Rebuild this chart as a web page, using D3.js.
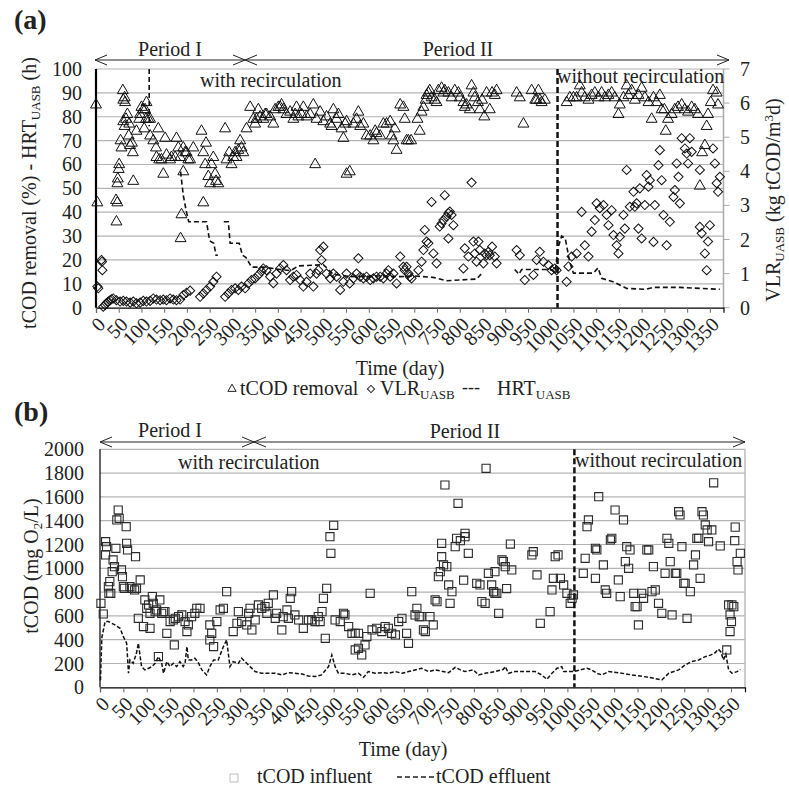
<!DOCTYPE html>
<html>
<head>
<meta charset="utf-8">
<script src="https://cdn.jsdelivr.net/npm/d3@7"></script>
<style>
  body { margin: 0; background: #fff; }
  svg { display: block; }
</style>
</head>
<body>
<div id="chart"></div>
<script>
// ---- data ----
// panel (a): tCOD removal (%), [day, value]
const removal = [
  [0,85],[3,44],[44,45],[47,44],[45,36],[47,52],[48,54],[50,58],[51,60],[54,70],[56,67],[59,91],[60,87],[63,88],[64,86],
  [60,78],[63,76],[66,79],[69,81],[73,77],[72,72],[75,68],[81,65],[79,69],[82,53],[89,74],[95,79],[97,81],[100,84],
  [104,83],[108,83],[111,86],[106,75],[110,79],[115,79],[119,79],[119,72],[126,70],[132,67],[137,75],[133,63],[139,62],
  [144,62],[148,56],[152,71],[155,64],[163,62],[166,63],[174,63],[177,71],[181,67],[185,63],[192,67],[196,65],[199,65],
  [203,62],[207,62],[214,67],[186,29],[188,39],[192,57],[232,74],[236,44],[236,65],[240,60],[242,69],[247,55],[251,52],
  [254,60],[258,63],[262,56],[264,53],[269,52],[284,75],[287,62],[293,65],[298,60],[302,63],[306,65],[309,63],[313,66],
  [317,70],[320,67],[324,65],[331,75],[339,84],[346,79],[350,77],[353,79],[357,83],[361,80],[368,79],[372,81],[375,81],
  [383,80],[390,77],[394,83],[401,84],[405,84],[408,85],[412,83],[419,81],[427,82],[434,79],[438,81],[441,84],[445,80],
  [452,81],[456,84],[463,80],[471,81],[478,85],[482,60],[485,79],[493,82],[500,78],[507,80],[515,77],[518,76],[522,83],
  [529,79],[533,81],[540,75],[544,71],[548,77],[551,78],[551,56],[558,57],[566,77],[573,79],[577,82],[581,76],[588,77],
  [595,72],[603,72],[610,70],[614,74],[617,73],[625,72],[632,77],[639,77],[647,78],[650,72],[654,70],[657,75],[661,66],
  [669,85],[676,84],[679,79],[683,70],[687,70],[693,70],[707,79],[712,74],[716,82],[720,84],[725,87],[727,89],[731,90],
  [734,91],[738,88],[745,87],[749,86],[753,91],[760,92],[764,90],[767,91],[775,90],[782,88],[789,91],[797,90],[800,88],
  [808,86],[811,84],[815,85],[822,83],[826,93],[830,90],[833,88],[840,86],[844,83],[849,87],[854,80],[859,90],[866,83],
  [871,90],[877,89],[881,91],[925,90],[932,88],[940,77],[958,91],[966,87],[969,87],[973,91],[976,87],[980,86],[987,87],
  [1035,86],[1042,88],[1050,88],[1057,88],[1064,93],[1068,90],[1075,88],[1083,87],[1090,89],[1097,90],[1105,88],
  [1112,90],[1119,88],[1127,89],[1134,90],[1141,88],[1149,81],[1152,85],[1160,88],[1167,93],[1171,89],[1178,91],
  [1185,87],[1193,89],[1200,92],[1207,88],[1215,86],[1222,79],[1226,88],[1233,86],[1240,89],[1244,83],[1250,83],
  [1253,74],[1258,79],[1266,81],[1273,83],[1280,84],[1288,85],[1295,83],[1302,82],[1310,84],[1317,83],[1324,81],
  [1328,51],[1333,65],[1339,68],[1343,76],[1346,81],[1352,86],[1357,91],[1365,90],[1368,85]
];

// panel (a): VLR UASB (kg tCOD/m3d), right axis
const vlr = [
  [3,0.62],[5,0.57],[12,1.4],[13,1.35],[14,1.1],[16,0.03],[20,0.08],[23,0.13],[27,0.18],[31,0.22],[34,0.25],[38,0.27],
  [45,0.22],[53,0.18],[60,0.2],[67,0.18],[75,0.15],[82,0.18],[89,0.13],[97,0.15],[104,0.2],[111,0.18],[119,0.2],
  [126,0.27],[133,0.24],[141,0.22],[148,0.24],[155,0.22],[163,0.27],[170,0.24],[177,0.22],[185,0.24],[192,0.37],
  [199,0.44],[207,0.5],[229,0.32],[236,0.42],[243,0.52],[251,0.62],[258,0.76],[265,0.91],[284,0.32],[291,0.42],
  [298,0.52],[306,0.57],[313,0.52],[320,0.62],[328,0.57],[335,0.71],[342,0.81],[350,0.86],[357,0.96],[364,1.06],
  [368,1.15],[375,1.1],[383,0.91],[390,0.72],[397,1.0],[405,1.15],[412,1.25],[419,1.1],[427,0.81],[434,0.91],
  [441,0.96],[449,0.81],[456,0.62],[463,0.76],[471,1.0],[478,0.62],[485,1.0],[489,1.1],[493,1.69],[500,1.79],
  [496,1.4],[507,1.0],[515,0.86],[522,1.0],[529,0.91],[537,0.52],[544,0.76],[551,1.0],[558,0.71],[566,0.86],
  [573,1.0],[577,1.45],[581,0.91],[588,0.86],[595,0.91],[603,0.81],[610,0.86],[617,0.91],[625,0.91],[632,0.86],
  [639,1.0],[643,1.1],[647,0.91],[654,1.0],[661,0.71],[669,1.5],[676,1.2],[679,1.1],[683,1.2],[687,1.0],[690,0.91],
  [694,0.86],[709,1.1],[716,1.35],[720,1.69],[723,2.28],[727,1.94],[731,1.89],[738,3.1],[742,1.59],[749,1.3],
  [756,2.38],[760,2.47],[764,2.57],[767,3.3],[771,2.67],[775,2.77],[778,2.82],[782,2.72],[786,2.42],[775,2.03],
  [808,1.15],[811,1.74],[819,1.5],[826,3.67],[830,1.94],[833,1.59],[837,1.35],[841,1.94],[844,1.69],[852,1.3],
  [855,1.59],[859,1.54],[863,1.64],[866,1.54],[871,1.79],[877,1.5],[881,1.3],[925,1.69],[932,1.54],[943,0.81],
  [962,0.96],[969,1.4],[976,1.64],[984,1.35],[995,1.25],[1002,1.1],[1009,1.15],[1013,1.1],[1035,0.76],[1039,1.21],
  [1046,1.5],[1057,1.59],[1068,2.81],[1075,1.83],[1083,1.5],[1090,2.23],[1097,2.57],[1101,3.06],[1108,2.92],
  [1116,3.01],[1123,2.72],[1127,2.42],[1134,2.86],[1138,2.13],[1145,1.83],[1149,1.59],[1152,2.08],[1160,2.72],
  [1163,2.32],[1167,4.04],[1174,2.96],[1182,3.4],[1185,2.96],[1189,3.06],[1193,2.32],[1196,3.5],[1200,2.03],
  [1207,3.01],[1211,3.89],[1215,3.55],[1218,3.74],[1226,1.93],[1229,3.01],[1237,4.18],[1240,4.62],[1244,3.74],
  [1248,2.72],[1255,1.83],[1262,2.52],[1270,3.25],[1273,3.45],[1277,4.23],[1281,3.84],[1284,3.06],[1288,4.97],
  [1295,4.67],[1299,4.52],[1302,4.23],[1306,4.97],[1310,4.57],[1328,4.04],[1328,2.37],[1332,2.18],[1339,1.59],
  [1343,1.1],[1346,1.94],[1350,2.42],[1357,4.67],[1361,4.23],[1365,3.65],[1368,3.4],[1372,3.84]
];

// panel (a): HRT UASB (h), null = gap in the line
const hrt = [
  [117,100],[117,76],null,
  [186,57],[192,47],[199,40],[204,36],[243,36],[250,28],[259,27],[264,22],[268,22],null,
  [281,36],[291,36],[295,27],[315,27],[322,22],[330,21],[342,17],[368,17],[405,16],[428,15.5],[445,17.5],[500,18],
  [522,14],[560,13],[624,13.3],[668,13],[700,13.3],[741,12.7],[771,11.3],[837,12],[851,15],null,
  [921,16],[930,14],[936,16],[998,16],[1010,15],[1016,25],[1024,30],[1032,29],[1042,19],[1050,14.5],[1094,14.5],
  [1104,16.7],[1112,12.3],[1137,10.9],[1167,8.1],[1210,7.7],[1225,8.5],[1284,8.5],[1372,7.7]
];

// panel (b): tCOD influent (mg O2/L)
const influent = [
  [2,706],[7,616],[12,1224],[14,1182],[12,1112],[18,846],[21,888],[23,790],[19,790],[28,1070],[31,1014],[26,972],
  [34,1168],[36,1406],[39,1490],[41,1420],[46,986],[48,930],[50,846],[52,832],[57,1210],[59,1154],[56,1350],[64,846],
  [68,832],[74,818],[76,1098],[78,832],[86,902],[96,734],[100,664],[104,692],[107,622],[112,762],[114,706],[118,636],
  [121,650],[128,734],[132,622],[136,636],[139,636],[82,580],[93,510],[107,496],[125,258],[143,454],[150,552],
  [157,566],[161,580],[168,594],[175,608],[182,552],[186,468],[189,524],[196,594],[203,622],[207,664],[214,664],
  [159,356],[235,524],[239,454],[235,398],[243,342],[250,552],[257,650],[264,664],[271,804],[285,468],[293,538],
  [296,636],[303,552],[314,524],[318,622],[321,664],[325,482],[332,566],[339,692],[346,664],[353,678],[357,622],
  [360,706],[371,776],[375,580],[378,622],[389,482],[392,594],[400,650],[407,748],[410,804],[403,580],[417,608],
  [425,566],[435,496],[446,566],[453,566],[460,552],[467,594],[471,552],[475,636],[482,412],[478,748],[485,832],
  [492,1266],[494,1126],[500,1361],[503,566],[514,552],[521,622],[524,608],[532,510],[539,454],[546,454],[553,454],
  [560,272],[546,314],[553,328],[567,356],[571,426],[578,790],[582,482],[592,496],[603,468],[610,510],[617,496],
  [624,454],[632,440],[639,552],[646,580],[656,454],[660,370],[667,804],[674,608],[678,664],[683,594],[687,594],
  [692,482],[696,468],[706,594],[713,524],[717,734],[721,720],[724,930],[728,972],[731,1210],[731,1098],[735,1028],
  [742,1014],[746,860],[753,804],[738,1700],[749,706],[760,1182],[763,1252],[766,1546],[771,1232],[778,900],
  [781,1266],[781,1294],[788,1126],[806,874],[813,860],[817,720],[824,706],[826,1840],[831,958],[838,860],[842,804],
  [845,790],[849,790],[853,622],[845,972],[860,1070],[863,1056],[867,1014],[870,830],[878,1204],[881,986],[924,1112],
  [927,1140],[935,944],[942,538],[963,636],[967,818],[970,916],[974,1098],[980,1112],[985,916],[992,860],[999,790],
  [1006,706],[1010,748],[1013,776],[1034,958],[1038,1084],[1042,1350],[1045,1406],[1060,916],[1060,1168],
  [1063,1154],[1067,1602],[1077,1028],[1081,818],[1084,790],[1092,1238],[1095,1252],[1102,1490],[1109,902],
  [1113,762],[1120,1406],[1124,1056],[1127,1182],[1131,1000],[1134,1154],[1142,790],[1145,678],[1149,678],
  [1152,524],[1159,790],[1163,748],[1170,1154],[1174,1154],[1181,804],[1184,1014],[1188,818],[1195,706],
  [1202,622],[1209,958],[1213,1252],[1217,1210],[1220,1056],[1224,608],[1231,958],[1234,958],[1238,1476],
  [1241,1448],[1245,1182],[1249,874],[1252,874],[1256,580],[1263,804],[1270,1028],[1274,1112],[1277,1252],
  [1281,1252],[1284,916],[1288,1476],[1291,1448],[1295,1364],[1299,1322],[1302,1224],[1309,1322],[1313,1718],
  [1327,1188],[1345,692],[1348,608],[1351,552],[1352,692],[1356,678],[1348,468],[1341,314],[1359,1346],
  [1358,1232],[1363,1056],[1365,986],[1370,1126]
];

// panel (b): tCOD effluent (mg O2/L)
const effluent = [
  [1,60],[4,420],[11,552],[18,552],[32,524],[43,496],[50,426],[57,370],[61,118],[64,230],[71,202],[78,286],[82,370],
  [89,174],[96,146],[104,160],[111,174],[118,202],[125,258],[132,202],[136,118],[143,216],[150,174],[157,202],
  [164,174],[171,216],[178,174],[182,202],[186,342],[189,230],[196,230],[203,244],[211,202],[218,146],[228,104],
  [235,174],[243,230],[253,230],[264,342],[271,398],[278,174],[285,216],[296,202],[303,244],[314,202],[321,174],
  [332,132],[346,118],[360,118],[375,118],[389,104],[403,123],[417,118],[432,112],[446,95],[460,90],[474,104],
  [489,174],[496,272],[503,174],[510,118],[524,118],[539,104],[553,118],[564,84],[574,132],[589,118],[603,123],
  [617,118],[632,132],[646,118],[660,132],[674,146],[688,160],[703,132],[717,146],[746,123],[760,168],[771,146],
  [781,132],[799,146],[810,104],[824,118],[845,132],[863,151],[867,174],[874,118],[888,132],[931,132],[945,104],
  [956,67],[967,118],[978,160],[988,174],[992,132],[1013,132],[1042,160],[1052,146],[1063,118],[1074,104],
  [1088,132],[1109,123],[1138,104],[1174,84],[1202,62],[1217,118],[1238,146],[1252,188],[1266,216],[1281,230],
  [1295,258],[1306,270],[1316,290],[1323,320],[1328,300],[1334,230],[1339,280],[1345,146],[1352,118],[1363,132],
  [1370,151]
];

const dayTicks = d3.range(0, 1351, 50);
const removalTicks = d3.range(0, 101, 10);
const vlrTicks = d3.range(0, 8, 1);
const tcodTicks = d3.range(0, 2001, 200);
const switchDay = 1015;

// ---- drawing ----
const W = 789, H = 788;
const FONT = "'Liberation Serif','Times New Roman',Times,serif";

const svg = d3.select("#chart").append("svg")
  .attr("width", W).attr("height", H)
  .style("font-family", FONT);
svg.append("rect").attr("width", W).attr("height", H).attr("fill", "#fff");

function bottomAxis(g, x, y0) {
  const ax = g.append("g")
    .attr("transform", `translate(0,${y0})`)
    .call(d3.axisBottom(x).tickValues(dayTicks).tickSize(5).tickFormat(d3.format("d")));
  ax.select(".domain").attr("stroke", "#000").attr("stroke-width", 1.2);
  ax.selectAll(".tick line").attr("stroke", "#666");
  ax.selectAll(".tick text")
    .attr("x", null).attr("y", null).attr("dy", "0.35em")
    .attr("transform", "translate(5,13) rotate(-45)")
    .attr("text-anchor", "end")
    .attr("font-size", 20).attr("font-family", FONT).attr("fill", "#222");
}

function grid(g, x, y, ticks) {
  g.append("g").selectAll("line").data(ticks).join("line")
    .attr("x1", x.range()[0]).attr("x2", x.range()[1])
    .attr("y1", d => y(d)).attr("y2", d => y(d))
    .attr("stroke", "#b3b3b3").attr("stroke-width", 1.2);
}

function leftLabels(g, y, ticks, xr) {
  g.append("g").selectAll("text").data(ticks).join("text")
    .attr("x", xr).attr("y", d => y(d)).attr("dy", "0.35em")
    .attr("text-anchor", "end").attr("font-size", 20).attr("fill", "#222")
    .text(d => d);
}

function arrowHead(g, tipX, y, dir) {
  // dir = -1 points left, +1 points right
  g.append("path")
    .attr("d", `M${tipX - dir * 12},${y - 5}L${tipX},${y}L${tipX - dir * 12},${y + 5}`)
    .attr("fill", "none").attr("stroke", "#222").attr("stroke-width", 1);
}

function periods(g, xL, xM, xR, y) {
  g.append("line").attr("x1", xL).attr("x2", xR).attr("y1", y).attr("y2", y)
    .attr("stroke", "#222").attr("stroke-width", 1);
  arrowHead(g, xL, y, -1);
  arrowHead(g, xM, y, 1);
  arrowHead(g, xM, y, -1);
  arrowHead(g, xR, y, 1);
}

function txt(g, x, y, s, size, anchor, weight) {
  return g.append("text").attr("x", x).attr("y", y)
    .attr("font-size", size).attr("text-anchor", anchor || "start")
    .attr("font-weight", weight || "normal").attr("fill", "#222").text(s);
}

// ===== panel (a) =====
const ga = svg.append("g");
const xA = d3.scaleLinear().domain([0, 1380]).range([96, 723.5]);
const yA = d3.scaleLinear().domain([0, 100]).range([307.7, 69]);
const yA2 = d3.scaleLinear().domain([0, 7]).range([307.7, 69]);

grid(ga, xA, yA, removalTicks.slice(1));
// right axis (grey)
ga.append("line").attr("x1", xA.range()[1]).attr("x2", xA.range()[1])
  .attr("y1", yA(0)).attr("y2", yA(100)).attr("stroke", "#aaa").attr("stroke-width", 1.5);
ga.append("g").selectAll("line").data(vlrTicks).join("line")
  .attr("x1", xA.range()[1]).attr("x2", xA.range()[1] + 6)
  .attr("y1", d => yA2(d)).attr("y2", d => yA2(d)).attr("stroke", "#aaa");
ga.append("g").selectAll("text").data(vlrTicks).join("text")
  .attr("x", 740).attr("y", d => yA2(d)).attr("dy", "0.35em")
  .attr("font-size", 20).attr("fill", "#222").text(d => d);

leftLabels(ga, yA, removalTicks, 82);
bottomAxis(ga, xA, yA(0));
ga.append("line").attr("x1", xA(0)).attr("x2", xA(0)).attr("y1", yA(0)).attr("y2", yA(100))
  .attr("stroke", "#000").attr("stroke-width", 2.2);

// HRT dashed line
ga.append("path").datum(hrt)
  .attr("d", d3.line().defined(d => d).x(d => xA(d[0])).y(d => yA(d[1])))
  .attr("fill", "none").attr("stroke", "#111").attr("stroke-width", 1.6)
  .attr("stroke-dasharray", "5,3");

// markers
const triangle = d3.symbol(d3.symbolTriangle, 52);
ga.append("g").selectAll("path").data(removal).join("path")
  .attr("transform", d => `translate(${xA(d[0])},${yA(d[1])})`)
  .attr("d", triangle).attr("fill", "none").attr("stroke", "#111").attr("stroke-width", 1);

const diamond = d3.symbol(d3.symbolSquare, 42);
ga.append("g").selectAll("path").data(vlr).join("path")
  .attr("transform", d => `translate(${xA(d[0])},${yA2(d[1])}) rotate(45)`)
  .attr("d", diamond).attr("fill", "none").attr("stroke", "#111").attr("stroke-width", 1);

// period switch
ga.append("line").attr("x1", xA(switchDay)).attr("x2", xA(switchDay))
  .attr("y1", yA(100)).attr("y2", yA(0))
  .attr("stroke", "#111").attr("stroke-width", 2.5).attr("stroke-dasharray", "6,3");

periods(ga, 95, 245, 729, 60);
txt(ga, 170, 56, "Period I", 20, "middle");
txt(ga, 458, 56, "Period II", 20, "middle");
txt(ga, 200, 87, "with recirculation", 20);
txt(ga, 557, 83, "without recirculation", 20);
txt(ga, 14, 29, "(a)", 28, "start", "bold");
txt(ga, 400, 375, "Time (day)", 20, "middle");

// y titles
const tA = ga.append("text").attr("transform", "translate(36,193) rotate(-90)")
  .attr("text-anchor", "middle").attr("font-size", 20).attr("fill", "#222");
tA.append("tspan").text("tCOD removal (%) - HRT");
tA.append("tspan").attr("font-size", 13).attr("dy", 4).text("UASB");
tA.append("tspan").attr("dy", -4).text(" (h)");

const tA2 = ga.append("text").attr("transform", "translate(780,200) rotate(-90)")
  .attr("text-anchor", "middle").attr("font-size", 20).attr("fill", "#222");
tA2.append("tspan").text("VLR");
tA2.append("tspan").attr("font-size", 13).attr("dy", 4).text("UASB");
tA2.append("tspan").attr("dy", -4).text(" (kg tCOD/m");
tA2.append("tspan").attr("font-size", 13).attr("dy", -7).text("3");
tA2.append("tspan").attr("dy", 7).text("d)");

// legend (a)
const la = ga.append("g");
la.append("path").attr("transform", "translate(232,389)")
  .attr("d", d3.symbol(d3.symbolTriangle, 30)).attr("fill", "none").attr("stroke", "#222");
txt(la, 240, 395, "tCOD removal", 20);
la.append("path").attr("transform", "translate(371,389) rotate(45)")
  .attr("d", d3.symbol(d3.symbolSquare, 26)).attr("fill", "none").attr("stroke", "#222");
const lv = txt(la, 380, 395, "VLR", 20);
lv.append("tspan").attr("font-size", 13).attr("dy", 4).text("UASB");
txt(la, 462, 393, "---", 18);
const lh = txt(la, 497, 395, "HRT", 20);
lh.append("tspan").attr("font-size", 13).attr("dy", 4).text("UASB");

// ===== panel (b) =====
const gb = svg.append("g");
const xB = d3.scaleLinear().domain([0, 1380]).range([100, 745]);
const yB = d3.scaleLinear().domain([0, 2000]).range([687.3, 449.3]);

grid(gb, xB, yB, tcodTicks.slice(1));
gb.append("line").attr("x1", xB.range()[1]).attr("x2", xB.range()[1])
  .attr("y1", yB(0)).attr("y2", yB(2000)).attr("stroke", "#bbb").attr("stroke-width", 1.5);
leftLabels(gb, yB, tcodTicks, 84);
bottomAxis(gb, xB, yB(0));
gb.append("line").attr("x1", xB(0)).attr("x2", xB(0)).attr("y1", yB(0)).attr("y2", yB(2000))
  .attr("stroke", "#000").attr("stroke-width", 1.2);

const square = d3.symbol(d3.symbolSquare, 66);
gb.append("g").selectAll("path").data(influent).join("path")
  .attr("transform", d => `translate(${xB(d[0])},${yB(d[1])})`)
  .attr("d", square).attr("fill", "none").attr("stroke", "#2a2a2a").attr("stroke-width", 1.1);

gb.append("path").datum(effluent)
  .attr("d", d3.line().x(d => xB(d[0])).y(d => yB(d[1])))
  .attr("fill", "none").attr("stroke", "#111").attr("stroke-width", 1.5)
  .attr("stroke-dasharray", "4,2");

gb.append("line").attr("x1", xB(switchDay)).attr("x2", xB(switchDay))
  .attr("y1", yB(2000)).attr("y2", yB(0))
  .attr("stroke", "#111").attr("stroke-width", 2.5).attr("stroke-dasharray", "6,3");

periods(gb, 100, 254, 745, 442);
txt(gb, 170, 437, "Period I", 20, "middle");
txt(gb, 465, 438, "Period II", 20, "middle");
txt(gb, 178, 469, "with recirculation", 20);
txt(gb, 575, 467, "without recirculation", 20);
txt(gb, 14, 421, "(b)", 28, "start", "bold");
txt(gb, 403, 756, "Time (day)", 20, "middle");

const tB = gb.append("text").attr("transform", "translate(38,566) rotate(-90)")
  .attr("text-anchor", "middle").attr("font-size", 20).attr("fill", "#222");
tB.append("tspan").text("tCOD (mg O");
tB.append("tspan").attr("font-size", 13).attr("dy", 4).text("2");
tB.append("tspan").attr("dy", -4).text("/L)");

// legend (b)
const lb = gb.append("g");
lb.append("path").attr("transform", "translate(234,778)")
  .attr("d", d3.symbol(d3.symbolSquare, 64)).attr("fill", "none").attr("stroke", "#bbb");
txt(lb, 257, 783, "tCOD influent", 20);
lb.append("line").attr("x1", 397).attr("x2", 435).attr("y1", 777).attr("y2", 777)
  .attr("stroke", "#222").attr("stroke-width", 1.5).attr("stroke-dasharray", "5,3");
txt(lb, 436, 783, "tCOD effluent", 20);
</script>
</body>
</html>
